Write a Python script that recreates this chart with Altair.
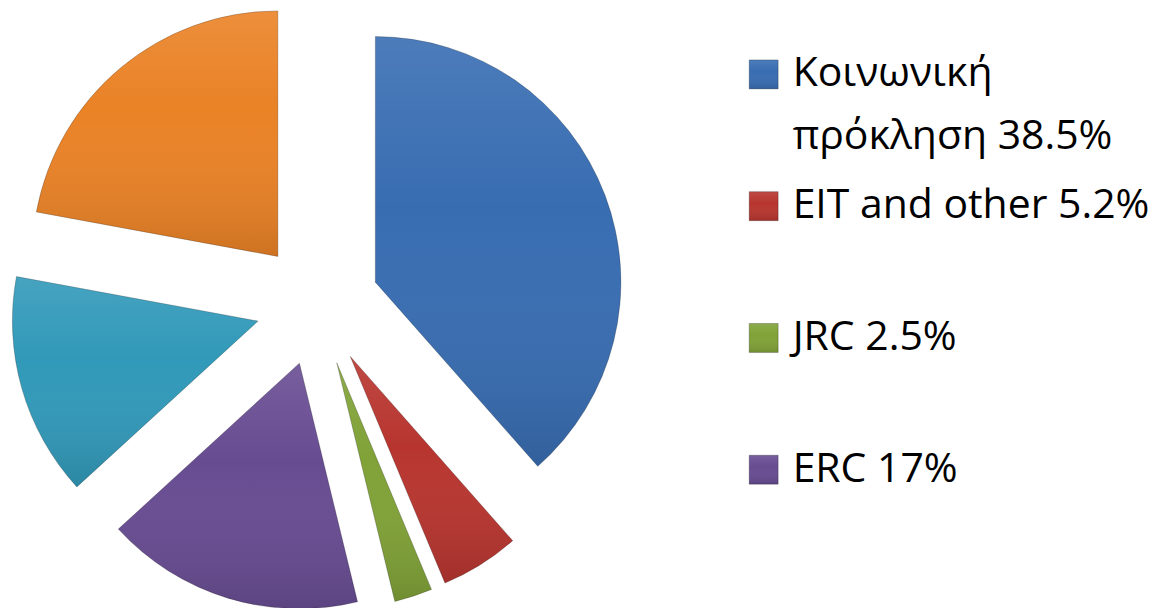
import altair as alt
import pandas as pd

# ---- data ----
categories = ["Κοινωνική πρόκληση", "EIT and other", "JRC", "ERC",
              "Εξαιρετική επιστήμη (λοιπά)", "Βιομηχανική υπεροχή"]
shares = [38.5, 5.2, 2.5, 17.0, 14.7, 22.1]
legend_categories = ["Κοινωνική πρόκληση", "EIT and other", "JRC", "ERC"]
legend_labels = ["Κοινωνική|πρόκληση 38.5%", "EIT and other 5.2%", "JRC 2.5%", "ERC 17%"]
colors = ["#386db2", "#b8352f", "#80a237", "#684c92", "#3199b9", "#ea8226"]

# ---- styling ----
EXPLODE = 62      # px offset of every slice from the pie centre
RADIUS = 246
PIE_W, PIE_H = 620, 592
FONT = "Open Sans"

df = pd.DataFrame({"category": categories, "share": shares,
                   "order": list(range(len(categories)))})
legend_df = pd.DataFrame({"category": legend_categories, "label": legend_labels})

color_scale = alt.Scale(domain=categories, range=colors)

shade = alt.Gradient(
    gradient="linear", x1=0, y1=0, x2=0, y2=1,
    stops=[alt.GradientStop(color="rgba(255,255,255,0.10)", offset=0),
           alt.GradientStop(color="rgba(255,255,255,0)", offset=0.4),
           alt.GradientStop(color="rgba(0,0,0,0.12)", offset=1)])

base = (
    alt.Chart(df)
    .transform_window(cum="sum(share)", sort=[alt.SortField("order")], frame=[None, 0])
    .transform_joinaggregate(total="sum(share)")
    .transform_calculate(t0="2*PI*(datum.cum - datum.share)/datum.total",
                         t1="2*PI*datum.cum/datum.total")
    .transform_calculate(mid="(datum.t0 + datum.t1)/2")
    .transform_calculate(cx=f"{EXPLODE}*sin(datum.mid)",
                         cy=f"{EXPLODE}*cos(datum.mid)")
)

xs = alt.X("cx:Q", axis=None,
           scale=alt.Scale(domain=[-PIE_W / 2, PIE_W / 2], nice=False, zero=False))
ys = alt.Y("cy:Q", axis=None,
           scale=alt.Scale(domain=[-PIE_H / 2, PIE_H / 2], nice=False, zero=False))

slices = base.mark_arc(radius=RADIUS, stroke="rgba(0,0,0,0.22)", strokeWidth=1).encode(
    x=xs, y=ys,
    theta=alt.Theta("t0:Q", scale=None), theta2="t1:Q",
    color=alt.Color("category:N", scale=color_scale, legend=None),
)
gloss = base.mark_arc(radius=RADIUS, fill=shade).encode(
    x=xs, y=ys, theta=alt.Theta("t0:Q", scale=None), theta2="t1:Q")

pie = alt.layer(slices, gloss).properties(width=PIE_W, height=PIE_H)

leg_y = alt.Y("category:N", sort=legend_categories, axis=None)
legend_base = alt.Chart(legend_df).encode(y=leg_y)
squares = legend_base.mark_square(size=841, opacity=1, stroke="rgba(0,0,0,0.25)",
                                  strokeWidth=1).encode(
    x=alt.value(15),
    color=alt.Color("category:N", scale=color_scale, legend=None))
square_gloss = legend_base.mark_square(size=841, opacity=1, fill=shade).encode(x=alt.value(15))
texts = legend_base.mark_text(align="left", baseline="middle", font=FONT, fontSize=41,
                              lineBreak="|", lineHeight=63, color="black").encode(
    x=alt.value(44), text="label:N")
legend = alt.layer(squares, square_gloss, texts).properties(width=390, height=528)

chart = (
    alt.hconcat(pie, legend, spacing=120)
    .properties(padding=0, background="white")
    .configure_view(stroke=None)
)

chart.save("out.html", embed_options={"renderer": "svg", "actions": False})
